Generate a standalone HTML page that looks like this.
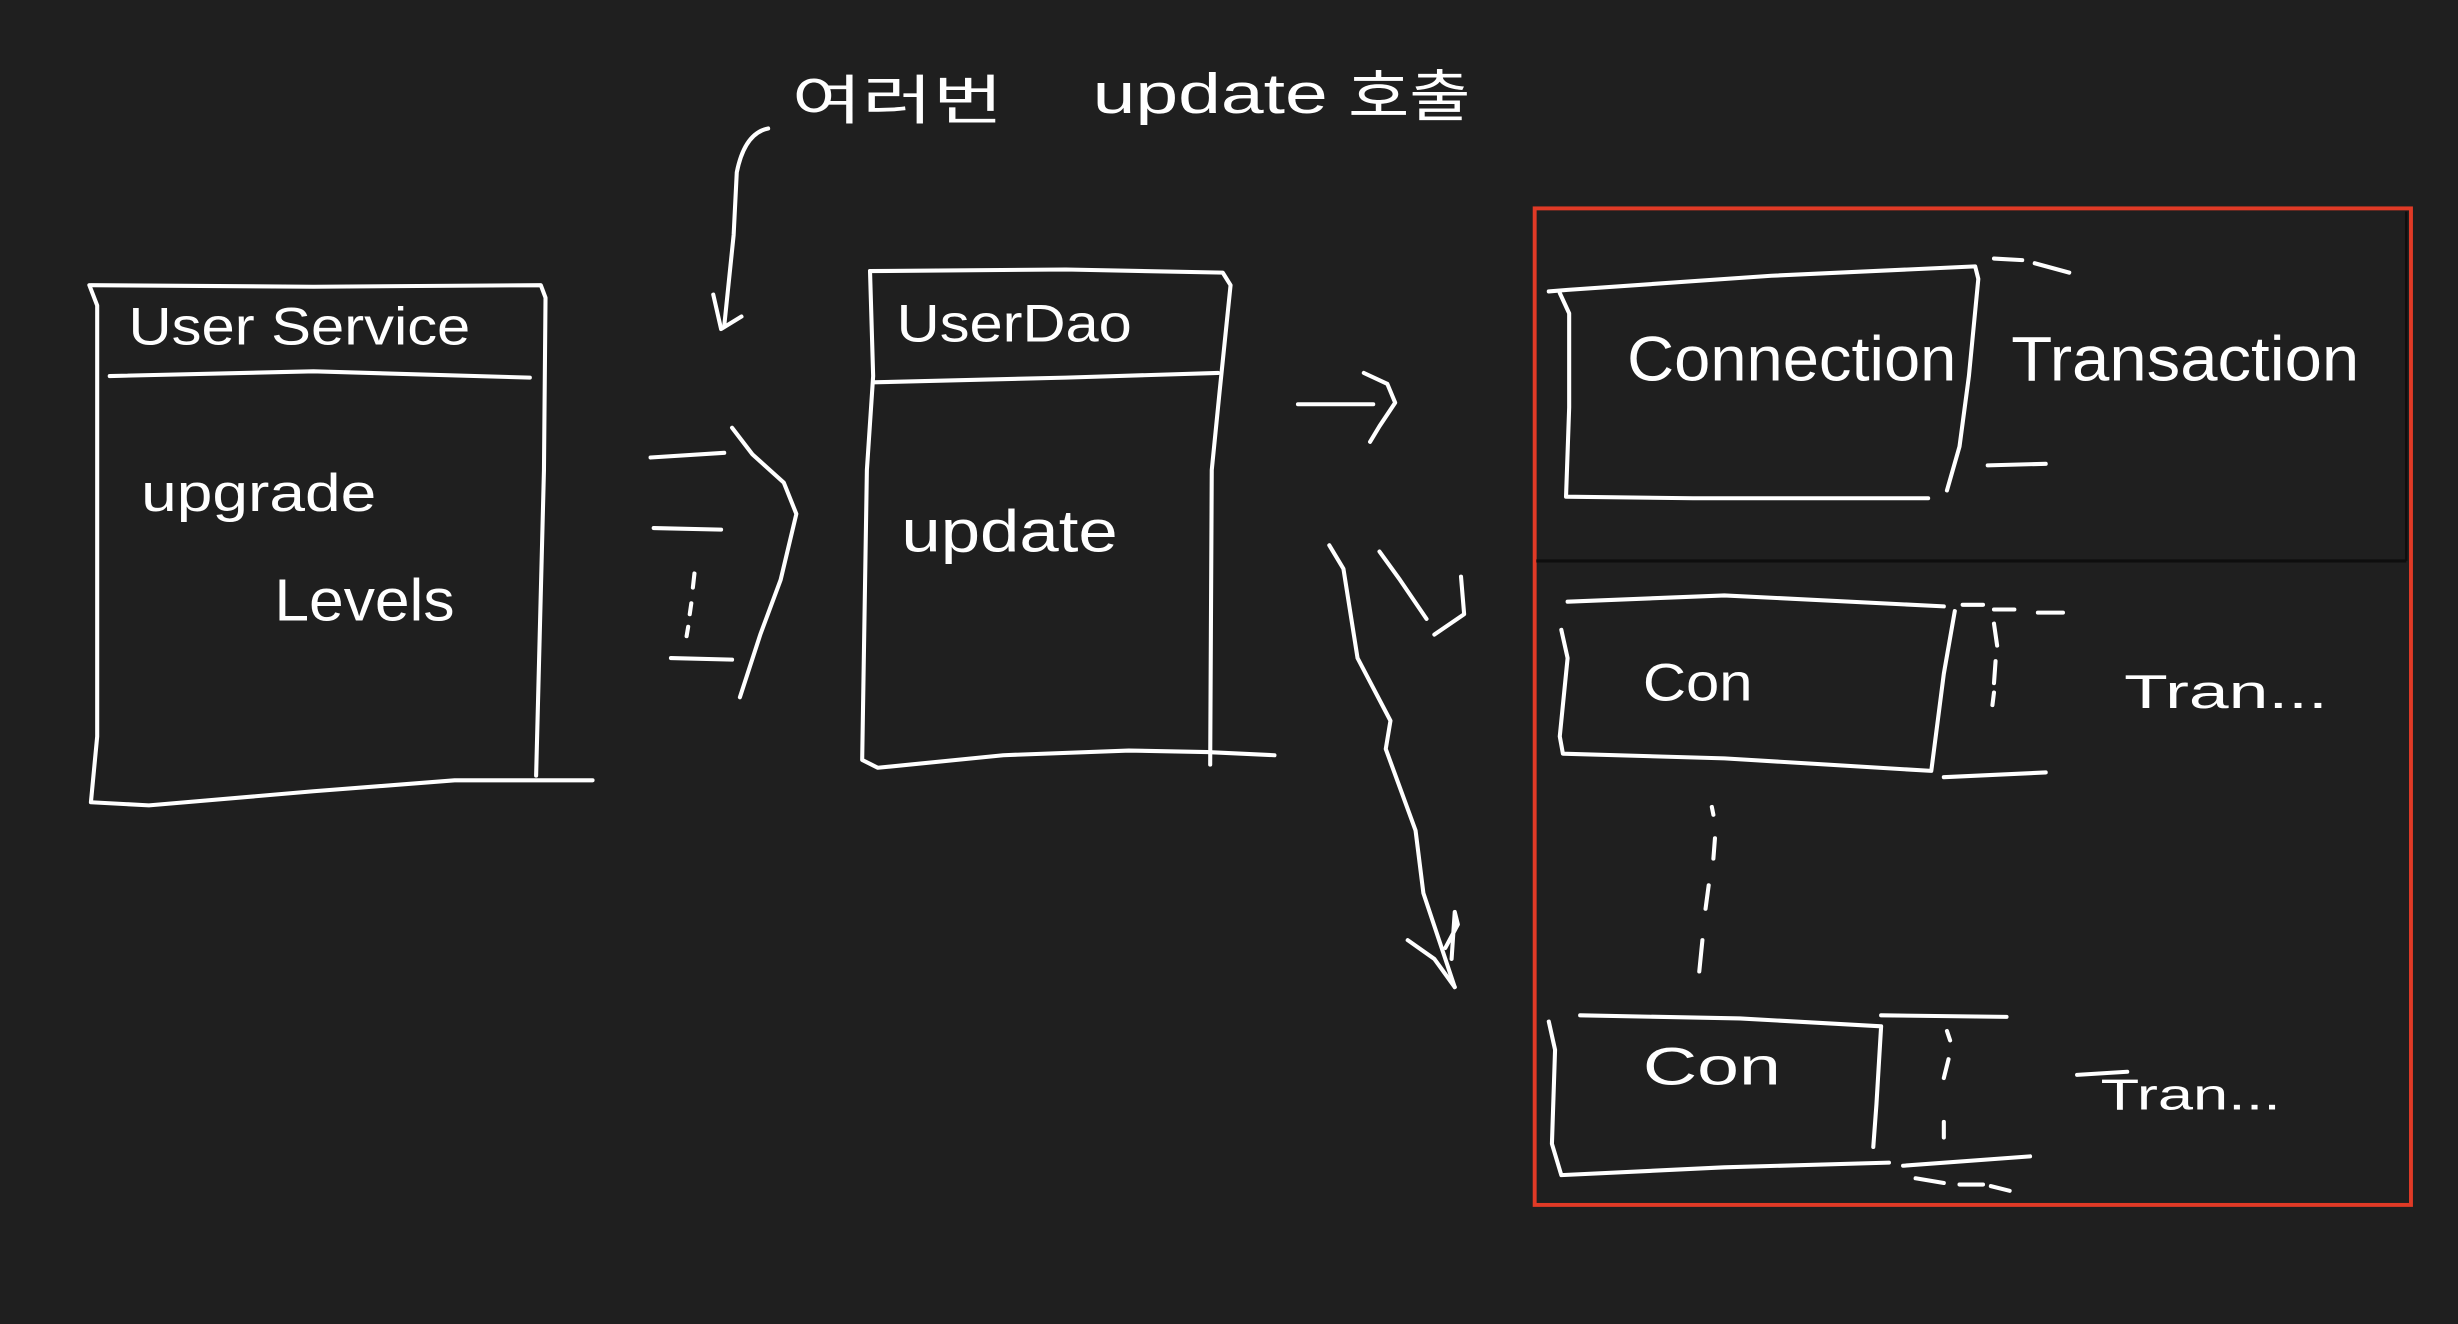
<!DOCTYPE html>
<html><head><meta charset="utf-8"><style>
html,body{margin:0;padding:0;background:#1f1f1f;}
svg{display:block;}
text{fill:#fff;font-family:"Liberation Sans","Noto Sans CJK KR",sans-serif;}
</style></head><body>
<svg width="2458" height="1324" viewBox="0 0 1568 845" preserveAspectRatio="none" xmlns="http://www.w3.org/2000/svg">
<rect width="1568" height="845" fill="#1f1f1f"/>
<g fill="none" stroke="#fff" stroke-width="2.6" stroke-linecap="round" stroke-linejoin="round">
<!-- User Service box -->
<path d="M57 182 L62 195 L62 470 L58 512 L95 514 L200 505 L290 498 L378 498"/>
<path d="M58 182 L200 183 L345 182 L348 190 L347 300 L342 495"/>
<path d="M70 240 L200 237 L338 241"/>
<!-- arrows middle -->
<path d="M415 292 L462 289"/>
<path d="M417 337 L460 338"/>
<path d="M443 366 L442 375 M441 385 L440 392 M439 400 L438 406"/>
<path d="M428 420 L467 421"/>
<path d="M467 273 L480 290 L500 308 L508 328 L498 370 L485 405 L472 445"/>
<!-- curved arrow top -->
<path d="M490 82 Q475 85 470 110 L468 150 L462 208"/>
<path d="M455 188 L460 210 L473 202"/>
<!-- UserDao box -->
<path d="M555 173 L557 240 L553 300 L550 485 L560 490 L640 482 L720 479 L770 480 L813 482"/>
<path d="M555 173 L680 172 L780 174 L785 182 L778 250 L773 300 L772 488"/>
<path d="M557 244 L680 241 L777 238"/>
<!-- arrows to right -->
<path d="M828 258 L876 258"/>
<path d="M870 238 L885 245 L890 257 L880 272 L874 282"/>
<path d="M880 352 L893 370 L910 395"/>
<path d="M932 368 L934 392 L915 405"/>
<path d="M848 348 L857 363 L866 420 L887 460 L884 478 L903 530 L908 570 L918 600 L928 630"/>
<path d="M898 600 L915 612 L928 630"/>
<path d="M922 605 L930 590 L928 582 L926 612"/>
<!-- Connection box -->
<path d="M988 186 L1000 185 L1130 176 L1260 170 L1262 178 L1256 240 L1250 285 L1242 313"/>
<path d="M995 187 L1001 200 L1001 260 L999 317 L1080 318 L1230 318"/>
<path d="M1272 165 L1290 166 M1298 168 L1320 174"/>
<path d="M1268 297 L1305 296"/>
<!-- box 2 -->
<path d="M996 402 L1000 420 L995 470 L997 481 L1100 484 L1232 492 L1240 430 L1247 390"/>
<path d="M1000 384 L1100 380 L1240 387"/>
<path d="M1252 386 L1265 386 M1272 389 L1285 389 M1300 391 L1316 391"/>
<path d="M1272 398 L1274 412 M1273 422 L1272 436 M1272 442 L1271 450"/>
<path d="M1240 496 L1305 493"/>
<path d="M1092 515 L1093 520 M1094 535 L1093 548 M1090 565 L1088 580 M1086 600 L1084 620"/>
<!-- box 3 -->
<path d="M988 652 L992 670 L990 730 L996 750 L1100 745 L1205 742"/>
<path d="M1008 648 L1110 650 L1200 655 L1197 705 L1195 732"/>
<path d="M1200 648 L1280 649"/>
<path d="M1242 658 L1244 664 M1243 676 L1240 688 M1240 716 L1240 726"/>
<path d="M1214 744 L1295 738"/>
<path d="M1222 752 L1240 755 M1250 756 L1265 756 M1270 757 L1282 760"/>
<path d="M1325 686 L1357 684"/>
</g>
<!-- red region -->
<rect x="979" y="133" width="559" height="636" fill="none" stroke="#e03a26" stroke-width="2.5"/>
<line x1="980" y1="358" x2="1535" y2="358" stroke="#0e0e0e" stroke-width="2"/>
<line x1="1535" y1="135" x2="1535" y2="358" stroke="#0e0e0e" stroke-width="1.5"/>
<!-- text -->
<text x="82" y="220" font-size="34" textLength="218" lengthAdjust="spacingAndGlyphs">User Service</text>
<text x="90" y="326" font-size="34" textLength="150" lengthAdjust="spacingAndGlyphs">upgrade</text>
<text x="175" y="396" font-size="38" textLength="115" lengthAdjust="spacingAndGlyphs">Levels</text>
<text x="572" y="218" font-size="34" textLength="150" lengthAdjust="spacingAndGlyphs">UserDao</text>
<text x="575" y="352" font-size="38" textLength="138" lengthAdjust="spacingAndGlyphs">update</text>
<text x="505" y="76" font-size="34" textLength="135" lengthAdjust="spacingAndGlyphs">여러번</text>
<text x="697" y="72" font-size="36" textLength="150" lengthAdjust="spacingAndGlyphs">update</text>
<text x="860" y="74" font-size="36" textLength="78" lengthAdjust="spacingAndGlyphs">호출</text>
<text x="1038" y="243" font-size="40" textLength="210" lengthAdjust="spacingAndGlyphs">Connection</text>
<text x="1283" y="243" font-size="40" textLength="222" lengthAdjust="spacingAndGlyphs">Transaction</text>
<text x="1048" y="447" font-size="34" textLength="70" lengthAdjust="spacingAndGlyphs">Con</text>
<text x="1355" y="452" font-size="30" textLength="130" lengthAdjust="spacingAndGlyphs">Tran...</text>
<text x="1048" y="692" font-size="34" textLength="88" lengthAdjust="spacingAndGlyphs">Con</text>
<text x="1340" y="708" font-size="28" textLength="115" lengthAdjust="spacingAndGlyphs">Tran...</text>
</svg>
</body></html>
